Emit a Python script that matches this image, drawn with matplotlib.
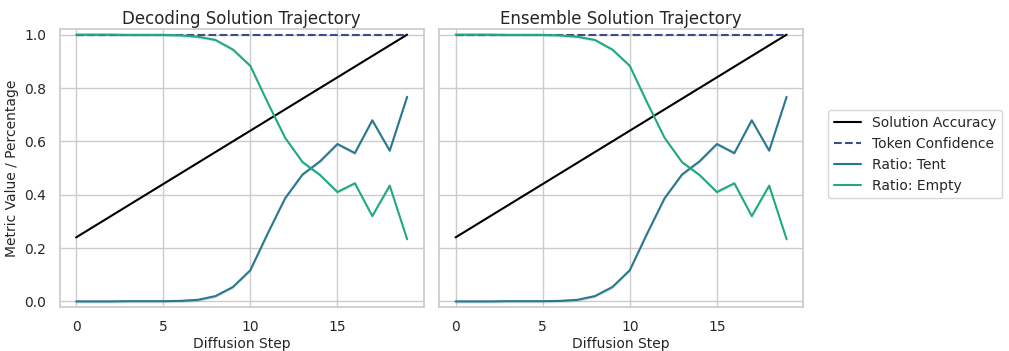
import numpy as np
import matplotlib
matplotlib.use("Agg")
import matplotlib.pyplot as plt
import seaborn as sns

sns.set_theme(style="whitegrid")
plt.rcParams['font.family'] = ['DejaVu Sans']

steps = list(range(20))
accuracy = [0.24, 0.28, 0.32, 0.36, 0.40, 0.44, 0.48, 0.52, 0.56, 0.60,
            0.64, 0.68, 0.72, 0.76, 0.80, 0.84, 0.88, 0.92, 0.96, 1.00]
confidence = [1.0] * 20
ratio_tent = [0.0, 0.0, 0.0, 0.001, 0.001, 0.001, 0.002, 0.006, 0.02, 0.054,
              0.117, 0.255, 0.387, 0.476, 0.525, 0.59, 0.556, 0.679, 0.565, 0.767]
ratio_empty = [1.0, 1.0, 1.0, 0.999, 0.999, 0.999, 0.997, 0.992, 0.98, 0.944,
               0.883, 0.745, 0.613, 0.522, 0.474, 0.41, 0.443, 0.32, 0.434, 0.233]
titles = ["Decoding Solution Trajectory", "Ensemble Solution Trajectory"]
labels = ["Solution Accuracy", "Token Confidence", "Ratio: Tent", "Ratio: Empty"]

c_acc = "black"
c_conf = "#3e4a89"
c_tent = "#2a788e"
c_empty = "#22a884"

fig, axes = plt.subplots(1, 2, figsize=(10.09, 3.51), dpi=100, sharey=True)
fig.subplots_adjust(left=0.059, right=0.796, top=0.9165, bottom=0.126, wspace=0.042)

x = np.array(steps)
for ax, title in zip(axes, titles):
    ax.plot(x, accuracy, color=c_acc, lw=1.5, label=labels[0])
    ax.plot(x, confidence, color=c_conf, lw=1.5, ls="--", label=labels[1])
    t = np.array(ratio_tent)
    e = np.array(ratio_empty)
    ax.fill_between(x, t - 0.006, t + 0.006, color=c_tent, alpha=0.2, lw=0)
    ax.plot(x, t, color=c_tent, lw=1.5, label=labels[2])
    ax.fill_between(x, e - 0.006, e + 0.006, color=c_empty, alpha=0.2, lw=0)
    ax.plot(x, e, color=c_empty, lw=1.5, label=labels[3])
    ax.set_title(title, fontsize=12, pad=4)
    ax.set_xlabel("Diffusion Step", fontsize=10, labelpad=2)
    ax.set_xticks([0, 5, 10, 15])
    ax.set_ylim(-0.02, 1.02)
    ax.set_yticks([0.0, 0.2, 0.4, 0.6, 0.8, 1.0])
    ax.tick_params(labelsize=10, pad=3.5)

axes[0].set_ylabel("Metric Value / Percentage", fontsize=10, labelpad=4)
handles, labs = axes[0].get_legend_handles_labels()
fig.legend(handles, labs, loc="center left", bbox_to_anchor=(821 / 1009, 0.56), fontsize=10)

fig.savefig("out.png", dpi=100)
